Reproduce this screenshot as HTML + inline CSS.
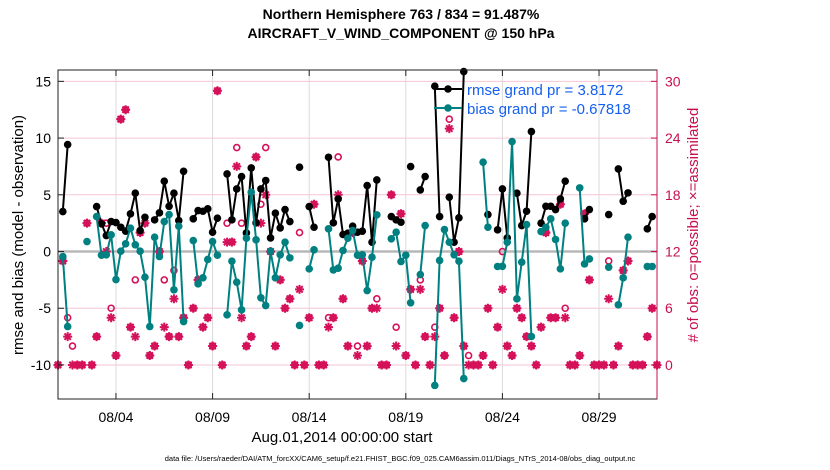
<!DOCTYPE html>
<html><head><meta charset="utf-8"><style>
body{margin:0;background:#fff;}
svg{display:block;font-family:"Liberation Sans",sans-serif;}
</style></head><body>
<svg id="chart" width="830" height="470" viewBox="0 0 830 470" xmlns="http://www.w3.org/2000/svg">
<rect width="830" height="470" fill="#fff"/>
<text x="401" y="19" text-anchor="middle" font-size="14" font-weight="bold">Northern Hemisphere 763 / 834 = 91.487%</text>
<text x="401" y="38" text-anchor="middle" font-size="14" font-weight="bold">AIRCRAFT_V_WIND_COMPONENT @ 150 hPa</text>
<g id="grid"></g>
<g id="marks"></g>
<rect x="58" y="70" width="599" height="329" fill="none" stroke="#222" stroke-width="1"/>
<line x1="657" y1="70" x2="657" y2="399" stroke="#c8104f" stroke-width="1"/>
<g id="axes"></g>
<text transform="translate(23,235) rotate(-90)" text-anchor="middle" font-size="15">rmse and bias (model - observation)</text>
<text transform="translate(698,225) rotate(-90)" text-anchor="middle" font-size="15" fill="#c8104f"># of obs: o=possible; ×=assimilated</text>
<text x="342" y="442" text-anchor="middle" font-size="15">Aug.01,2014 00:00:00 start</text>
<text x="400" y="461" text-anchor="middle" font-size="7.5">data file: /Users/raeder/DAI/ATM_forcXX/CAM6_setup/f.e21.FHIST_BGC.f09_025.CAM6assim.011/Diags_NTrS_2014-08/obs_diag_output.nc</text>
<g id="legend">
<line x1="434" y1="89" x2="462" y2="89" stroke="#000" stroke-width="2"/>
<circle cx="448" cy="89" r="3.8" fill="#000"/>
<text x="467" y="95" font-size="15" fill="#1560f0">rmse grand pr = 3.8172</text>
<line x1="434" y1="108" x2="462" y2="108" stroke="#008080" stroke-width="2"/>
<circle cx="448" cy="108" r="3.8" fill="#008080"/>
<text x="467" y="114" font-size="15" fill="#1560f0">bias grand pr = -0.67818</text>
</g>
</svg>
<script>
// data: [slot (6-hourly index from Aug 1 00Z), value]
const rmse = [[1,3.52],[2,9.43],[8,3.96],[9,2.44],[10,1.41],[11,2.64],[12,2.55],[13,2.14],[14,1.79],[15,3.32],[16,5.14],[17,1.85],[18,3.02],[20,2.79],[21,3.41],[22,6.2],[23,3.99],[24,5.14],[25,2.73],[26,7.07],[28,2.88],[29,3.61],[30,3.55],[31,3.76],[32,1.70],[33,2.94],[35,6.84],[36,2.79],[37,5.52],[38,6.61],[39,1.64],[40,7.37],[41,2.53],[42,5.52],[43,6.26],[44,1.20],[45,3.38],[46,2.08],[47,3.70],[48,2.64],[50,7.43],[52,3.96],[53,2.14],[56,8.31],[57,2.53],[58,4.64],[59,1.50],[60,1.62],[61,2.23],[62,1.70],[63,1.79],[64,5.81],[65,0.82],[66,6.31],[69,3.08],[70,2.79],[71,2.58],[73,7.49],[75,5.43],[76,6.61],[78,14.57],[79,3.08],[81,4.79],[82,0.82],[83,2.97],[84,15.86],[89,3.26],[91,1.91],[92,5.52],[93,1.20],[95,5.14],[96,2.29],[97,3.55],[98,10.57],[100,2.5],[101,3.99],[102,3.99],[103,3.70],[104,4.64],[105,6.2],[109,2.88],[110,3.70],[114,3.26],[116,7.28],[117,4.43],[118,5.17],[122,2.0],[123,3.08]];
const bias = [[1,-0.44],[2,-6.61],[6,0.88],[8,3.08],[9,-0.32],[10,-0.29],[11,1.47],[12,-2.47],[13,0.03],[14,0.68],[15,2.06],[16,0.59],[17,0.03],[18,-2.26],[19,-6.61],[20,1.26],[21,-0.44],[22,2.64],[23,3.26],[24,-3.38],[25,2.23],[26,-6.17],[28,0.97],[29,-2.85],[30,-2.32],[31,-0.70],[32,0.88],[33,-0.32],[35,-5.58],[36,-0.85],[37,-2.70],[38,-5.14],[39,1.17],[40,5.23],[41,1.03],[42,-4.08],[43,-4.76],[44,0.03],[45,-2.32],[46,-0.29],[47,0.82],[48,-0.56],[50,-6.52],[52,-1.53],[53,0.15],[56,2.0],[57,-1.62],[58,-1.47],[59,0.09],[60,1.17],[61,1.85],[62,-0.32],[63,-0.29],[64,-3.44],[65,-0.5],[66,3.23],[69,1.12],[70,1.70],[71,-0.88],[72,-0.32],[73,-4.52],[75,-2.03],[76,2.29],[78,-11.8],[79,-0.79],[80,1.94],[81,0.82],[82,-0.29],[83,-0.85],[84,-11.2],[88,7.87],[89,2.14],[91,-1.32],[92,-1.3],[93,0.82],[94,9.69],[95,-4.17],[96,-0.94],[97,2.38],[98,-7.49],[100,1.76],[101,2.14],[102,2.88],[103,1.06],[104,-1.53],[105,2.5],[108,5.61],[109,-1.09],[110,-0.65],[114,-1.38],[116,-4.70],[117,-2.32],[118,1.26],[122,-1.32],[123,-1.32]];
// [slot, possible, assimilated]
const obsCounts = [[0,0,0],[1,11,11],[2,5,3],[3,2,0],[4,0,0],[5,0,0],[6,15,15],[7,0,0],[8,3,3],[9,15,15],[10,15,12],[11,6,5],[12,1,1],[13,26,26],[14,27,27],[15,4,4],[16,9,3],[17,14,14],[18,15,15],[19,1,1],[20,2,2],[21,12,12],[22,9,4],[23,3,3],[24,10,7],[25,3,3],[26,5,5],[27,0,0],[28,6,6],[29,9,9],[30,4,4],[31,5,5],[32,2,2],[33,29,29],[34,0,0],[35,15,13],[36,13,13],[37,23,21],[38,15,5],[39,2,2],[40,3,3],[41,22,22],[42,17,15],[43,23,18],[44,12,12],[45,2,2],[46,9,9],[47,6,6],[48,7,7],[49,0,0],[50,14,8],[51,0,0],[52,5,5],[53,17,17],[54,0,0],[55,0,0],[56,5,4],[57,5,5],[58,22,18],[59,7,7],[60,2,2],[61,14,14],[62,2,1],[63,11,11],[64,2,2],[65,6,6],[66,7,6],[67,0,0],[68,0,0],[69,18,18],[70,4,2],[71,16,16],[72,1,1],[73,8,8],[74,0,0],[75,9,8],[76,3,3],[77,0,0],[78,4,3],[79,6,6],[80,1,1],[81,26,25],[82,5,5],[83,12,12],[84,2,2],[85,1,0],[86,0,0],[87,0,0],[88,1,1],[89,6,6],[90,0,0],[91,4,4],[92,12,8],[93,2,2],[94,1,1],[95,6,6],[96,5,5],[97,3,3],[98,2,2],[99,0,0],[100,4,4],[101,14,14],[102,5,5],[103,5,5],[104,17,17],[105,6,5],[106,0,0],[107,0,0],[108,1,1],[109,16,16],[110,9,9],[111,0,0],[112,0,0],[113,0,0],[114,11,7],[115,0,0],[116,2,2],[117,10,10],[118,11,11],[119,0,0],[120,0,0],[121,0,0],[122,3,3],[123,6,6],[124,0,0]];
const xTickDays = [3,8,13,18,23,28];
const xTickLabels = ["08/04","08/09","08/14","08/19","08/24","08/29"];
const yLeftTicks = [-10,-5,0,5,10,15];
const yRightTicks = [0,6,12,18,24,30];

const NS="http://www.w3.org/2000/svg";
const X0=58,X1=657,Y0=70,Y1=399;
const xDay=d=>X0+d*(X1-X0)/31;
const xSlot=s=>xDay(s*0.25);
const yL=v=>Y0+(16-v)*(Y1-Y0)/29;
const yR=r=>yL(r/1.2-10);
function mk(tag,attrs,parent){const e=document.createElementNS(NS,tag);for(const k in attrs)e.setAttribute(k,attrs[k]);parent.appendChild(e);return e;}
const grid=document.getElementById('grid'),marks=document.getElementById('marks'),axes=document.getElementById('axes');

xTickDays.forEach((d,i)=>{
  const x=xDay(d);
  const g=mk('line',{x1:x,y1:Y0,x2:x,y2:Y1,stroke:'#dcdcdc','stroke-width':1},grid);
  
  
  mk('line',{x1:x,y1:Y1,x2:x,y2:Y1-6,stroke:'#222'},axes);
  mk('line',{x1:x,y1:Y0,x2:x,y2:Y0+6,stroke:'#222'},axes);
  const t=mk('text',{x:x,y:422,'text-anchor':'middle','font-size':14},axes);
  t.textContent=xTickLabels[i];
  
  
});
yRightTicks.forEach(r=>{
  const y=yR(r);
  const g=mk('line',{x1:X0,y1:y,x2:X1,y2:y,stroke:'#f6c6d6','stroke-width':1},grid);
  
  
  mk('line',{x1:X1,y1:y,x2:X1-6,y2:y,stroke:'#c8104f'},axes);
  const t=mk('text',{x:665,y:y+5,'font-size':14,fill:'#c8104f'},axes);
  t.textContent=r;
  
  
});
yLeftTicks.forEach(v=>{
  const y=yL(v);
  mk('line',{x1:X0,y1:y,x2:X0+6,y2:y,stroke:'#222'},axes);
  const t=mk('text',{x:51,y:y+5,'text-anchor':'end','font-size':14},axes);
  t.textContent=v;
  
  
});
const zl=mk('line',{x1:X0,y1:yL(0),x2:X1,y2:yL(0),stroke:'#b8b8b8','stroke-width':2.5},grid);



// obs counts
const pink='#d5115a';
obsCounts.forEach(o=>{
  const x=xSlot(o[0]);
  const yp=yR(o[1]),ya=yR(o[2]);
  const c=mk('circle',{cx:x,cy:yp,r:3,fill:'none',stroke:pink,'stroke-width':1.6},marks);
  
  
  const s=mk('path',{d:`M${x-4.5},${ya}h9M${x},${ya-4.5}v9M${x-3.2},${ya-3.2}l6.4,6.4M${x-3.2},${ya+3.2}l6.4,-6.4`,stroke:pink,'stroke-width':2,fill:'none'},marks);
  
  
  if(o[1]===o[2]){const f=mk('circle',{cx:x,cy:ya,r:3.2,fill:pink},marks);}
});

function series(data,color,name){
  let d='',prev=null;
  data.forEach(p=>{const x=xSlot(p[0]),y=yL(p[1]);d+=(prev!==null&&p[0]-prev===1?'L':'M')+x.toFixed(1)+','+y.toFixed(1);prev=p[0];});
  const pth=mk('path',{d:d,stroke:color,'stroke-width':2,fill:'none'},marks);
  
  
  data.forEach(p=>{
    const c=mk('circle',{cx:xSlot(p[0]),cy:yL(p[1]),r:3.8,fill:color},marks);
    
    
  });
}
series(rmse,'#000','rmse');
series(bias,'#008080','bias');
</script>
</body></html>
